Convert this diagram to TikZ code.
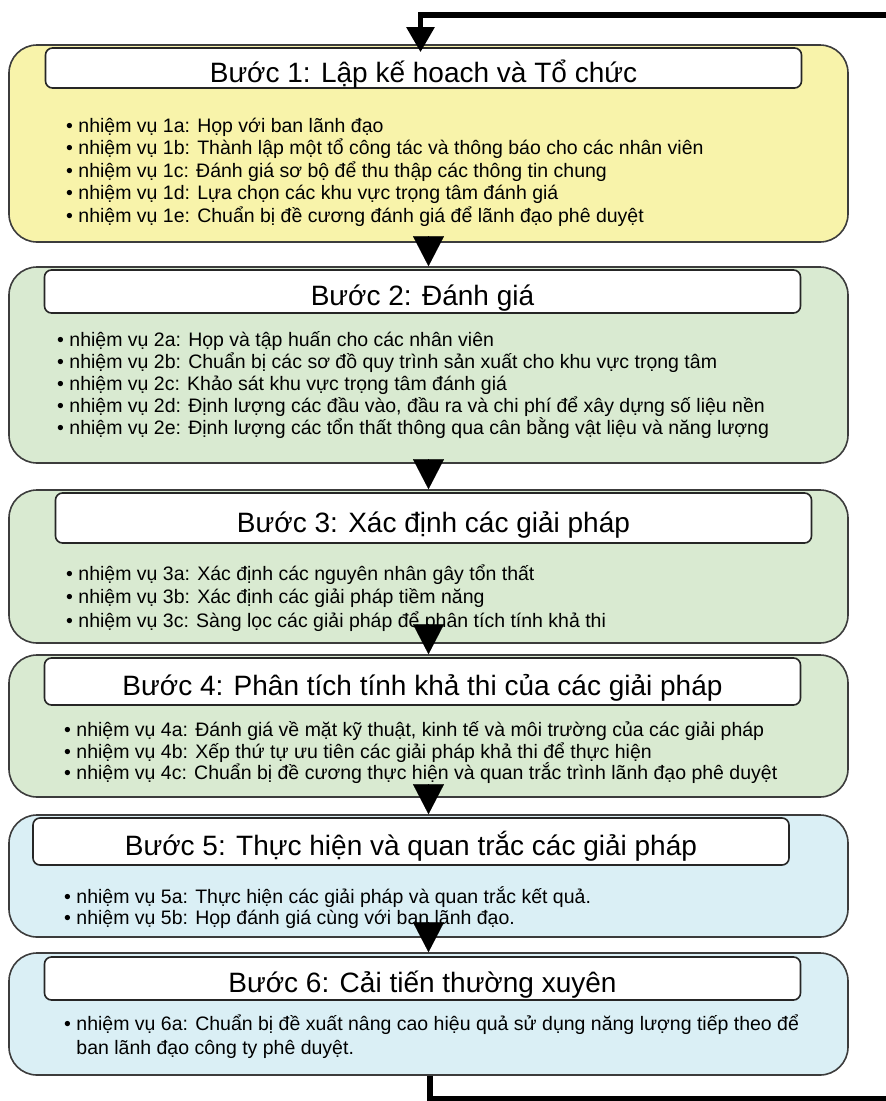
\documentclass[tikz,border=0pt]{standalone}
\usepackage{fontspec}
\setmainfont{Liberation Sans}
\usetikzlibrary{arrows.meta}
\definecolor{planyellow}{HTML}{F8F3AA}
\definecolor{auditgreen}{HTML}{D9EAD1}
\definecolor{actionblue}{HTML}{DAEFF5}
\definecolor{boxedge}{HTML}{3C3C3C}
\begin{document}
\begin{tikzpicture}[x=1pt,y=-1pt,
  stepbox/.style={draw=boxedge, line width=1.6pt, rounded corners=28pt, minimum width=839pt},
  titlebox/.style={draw=black!85, fill=white, line width=1.6pt, rounded corners=7pt, minimum width=756pt, inner ysep=0pt, text height=31pt, text depth=3pt, font=\fontsize{28}{32}\selectfont},
  tasklist/.style={anchor=north west, inner sep=0pt, align=left, font=\fontsize{19.5}{22}\selectfont},
  flowtip/.style={-{Triangle[length=30pt,width=31pt]}, line width=0.1pt},
  loopline/.style={line width=5.5pt}]
\useasboundingbox (0,0) rectangle (886,1101);
\node [stepbox, fill=planyellow, minimum height=197pt] (step1) at (428.5,143.5) {};
\node [stepbox, fill=auditgreen, minimum height=196pt] (step2) at (428.5,365) {};
\node [stepbox, fill=auditgreen, minimum height=153pt] (step3) at (428.5,566.5) {};
\node [stepbox, fill=auditgreen, minimum height=142pt] (step4) at (428.5,726) {};
\node [stepbox, fill=actionblue, minimum height=122pt] (step5) at (428.5,876) {};
\node [stepbox, fill=actionblue, minimum height=122pt] (step6) at (428.5,1014) {};
\node [titlebox, minimum height=40pt] (title1) at (423.5,68) {Bước 1: Lập kế hoach và Tổ chức};
\node [titlebox, minimum height=43pt] (title2) at (422.5,291.5) {Bước 2: Đánh giá};
\node [titlebox, minimum height=50pt] (title3) at (433.5,518) {Bước 3: Xác định các giải pháp};
\node [titlebox, minimum height=47pt] (title4) at (422.5,681.5) {Bước 4: Phân tích tính khả thi của các giải pháp};
\node [titlebox, minimum height=47pt] (title5) at (411,841.5) {Bước 5: Thực hiện và quan trắc các giải pháp};
\node [titlebox, minimum height=43pt] (title6) at (422.5,978.5) {Bước 6: Cải tiến thường xuyên};
\node [tasklist, font=\fontsize{19.5}{22.5}\selectfont] (tasks1) at (66,117.5) {• nhiệm vụ 1a: Họp với ban lãnh đạo\\
  • nhiệm vụ 1b: Thành lập một tổ công tác và thông báo cho các nhân viên\\
  • nhiệm vụ 1c: Đánh giá sơ bộ để thu thập các thông tin chung\\
  • nhiệm vụ 1d: Lựa chọn các khu vực trọng tâm đánh giá\\
  • nhiệm vụ 1e: Chuẩn bị đề cương đánh giá để lãnh đạo phê duyệt};
\node [tasklist] (tasks2) at (57,331.5) {• nhiệm vụ 2a: Họp và tập huấn cho các nhân viên\\
  • nhiệm vụ 2b: Chuẩn bị các sơ đồ quy trình sản xuất cho khu vực trọng tâm\\
  • nhiệm vụ 2c: Khảo sát khu vực trọng tâm đánh giá\\
  • nhiệm vụ 2d: Định lượng các đầu vào, đầu ra và chi phí để xây dựng số liệu nền\\
  • nhiệm vụ 2e: Định lượng các tổn thất thông qua cân bằng vật liệu và năng lượng};
\node [tasklist, font=\fontsize{19.5}{23.5}\selectfont] (tasks3) at (66,564.5) {• nhiệm vụ 3a: Xác định các nguyên nhân gây tổn thất\\
  • nhiệm vụ 3b: Xác định các giải pháp tiềm năng\\
  • nhiệm vụ 3c: Sàng lọc các giải pháp để phân tích tính khả thi};
\node [tasklist, font=\fontsize{19.5}{21.5}\selectfont] (tasks4) at (64,721.5) {• nhiệm vụ 4a: Đánh giá về mặt kỹ thuật, kinh tế và môi trường của các giải pháp\\
  • nhiệm vụ 4b: Xếp thứ tự ưu tiên các giải pháp khả thi để thực hiện\\
  • nhiệm vụ 4c: Chuẩn bị đề cương thực hiện và quan trắc trình lãnh đạo phê duyệt};
\node [tasklist, font=\fontsize{19.5}{20.5}\selectfont] (tasks5) at (64,886.5) {• nhiệm vụ 5a: Thực hiện các giải pháp và quan trắc kết quả.\\
  • nhiệm vụ 5b: Họp đánh giá cùng với ban lãnh đạo.};
\node [tasklist, font=\fontsize{19.5}{24}\selectfont] (tasks6) at (64,1014.5) {• nhiệm vụ 6a: Chuẩn bị đề xuất nâng cao hiệu quả sử dụng năng lượng tiếp theo để\\
  \hphantom{•\ }ban lãnh đạo công ty phê duyệt.};
\draw [flowtip] (step1.south) -- (step2.north);
\draw [flowtip] (step2.south) -- (step3.north);
\draw [flowtip] (step3.south) -- (step4.north);
\draw [flowtip] (step4.south) -- (step5.north);
\draw [flowtip] (step5.south) -- (step6.north);
\coordinate (loopin) at (892,15);
\coordinate (loopout) at (892,1099);
\draw [loopline, -{Triangle[length=25pt,width=27pt]}] (loopin) -| ([xshift=-8pt,yshift=-8pt]step1.north);
\draw [loopline] ([xshift=1.5pt]step6.south) |- (loopout);
\end{tikzpicture}
\end{document}
